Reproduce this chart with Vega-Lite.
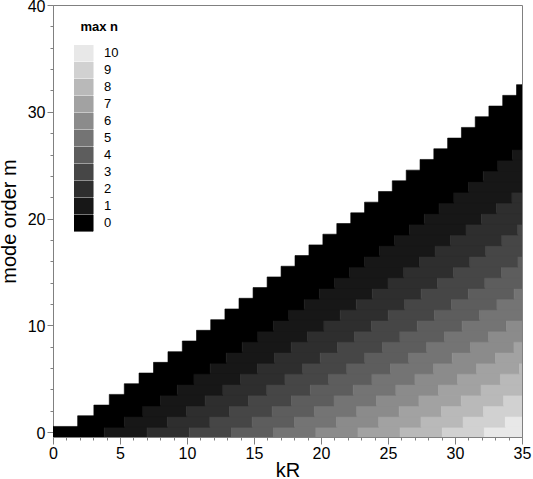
{
  "$schema": "https://vega.github.io/schema/vega-lite/v6.json",
  "width": 469,
  "height": 432,
  "autosize": {"type": "none"},
  "padding": {"left": 53, "top": 5, "right": 11, "bottom": 42},
  "background": "white",
  "config": {
    "font": "Liberation Sans",
    "view": {"stroke": "#808080", "strokeWidth": 1},
    "axis": {"grid": false, "domainColor": "#808080", "tickColor": "#808080", "labelColor": "#000000", "titleColor": "#000000", "titleFontWeight": "normal", "labelFontSize": 16, "titleFontSize": 20, "labelOverlap": false, "labelFlush": false, "labelBound": false}
  },
  "data": {
    "values": [
      {"m":0,"a":0,"b":3.83,"n":0},{"m":0,"a":3.83,"b":7.02,"n":1},{"m":0,"a":7.02,"b":10.17,"n":2},{"m":0,"a":10.17,"b":13.32,"n":3},{"m":0,"a":13.32,"b":16.47,"n":4},{"m":0,"a":16.47,"b":19.62,"n":5},{"m":0,"a":19.62,"b":22.76,"n":6},{"m":0,"a":22.76,"b":25.9,"n":7},{"m":0,"a":25.9,"b":29.05,"n":8},{"m":0,"a":29.05,"b":32.19,"n":9},{"m":0,"a":32.19,"b":35,"n":10},
      {"m":1,"a":1.84,"b":5.33,"n":0},{"m":1,"a":5.33,"b":8.54,"n":1},{"m":1,"a":8.54,"b":11.71,"n":2},{"m":1,"a":11.71,"b":14.86,"n":3},{"m":1,"a":14.86,"b":18.02,"n":4},{"m":1,"a":18.02,"b":21.16,"n":5},{"m":1,"a":21.16,"b":24.31,"n":6},{"m":1,"a":24.31,"b":27.46,"n":7},{"m":1,"a":27.46,"b":30.6,"n":8},{"m":1,"a":30.6,"b":33.75,"n":9},{"m":1,"a":33.75,"b":35,"n":10},
      {"m":2,"a":3.05,"b":6.71,"n":0},{"m":2,"a":6.71,"b":9.97,"n":1},{"m":2,"a":9.97,"b":13.17,"n":2},{"m":2,"a":13.17,"b":16.35,"n":3},{"m":2,"a":16.35,"b":19.51,"n":4},{"m":2,"a":19.51,"b":22.67,"n":5},{"m":2,"a":22.67,"b":25.83,"n":6},{"m":2,"a":25.83,"b":28.98,"n":7},{"m":2,"a":28.98,"b":32.13,"n":8},{"m":2,"a":32.13,"b":35,"n":9},
      {"m":3,"a":4.2,"b":8.02,"n":0},{"m":3,"a":8.02,"b":11.35,"n":1},{"m":3,"a":11.35,"b":14.59,"n":2},{"m":3,"a":14.59,"b":17.79,"n":3},{"m":3,"a":17.79,"b":20.97,"n":4},{"m":3,"a":20.97,"b":24.14,"n":5},{"m":3,"a":24.14,"b":27.31,"n":6},{"m":3,"a":27.31,"b":30.47,"n":7},{"m":3,"a":30.47,"b":33.63,"n":8},{"m":3,"a":33.63,"b":35,"n":9},
      {"m":4,"a":5.32,"b":9.28,"n":0},{"m":4,"a":9.28,"b":12.68,"n":1},{"m":4,"a":12.68,"b":15.96,"n":2},{"m":4,"a":15.96,"b":19.2,"n":3},{"m":4,"a":19.2,"b":22.4,"n":4},{"m":4,"a":22.4,"b":25.59,"n":5},{"m":4,"a":25.59,"b":28.77,"n":6},{"m":4,"a":28.77,"b":31.94,"n":7},{"m":4,"a":31.94,"b":35,"n":8},
      {"m":5,"a":6.42,"b":10.52,"n":0},{"m":5,"a":10.52,"b":13.99,"n":1},{"m":5,"a":13.99,"b":17.31,"n":2},{"m":5,"a":17.31,"b":20.58,"n":3},{"m":5,"a":20.58,"b":23.8,"n":4},{"m":5,"a":23.8,"b":27.01,"n":5},{"m":5,"a":27.01,"b":30.2,"n":6},{"m":5,"a":30.2,"b":33.39,"n":7},{"m":5,"a":33.39,"b":35,"n":8},
      {"m":6,"a":7.5,"b":11.73,"n":0},{"m":6,"a":11.73,"b":15.27,"n":1},{"m":6,"a":15.27,"b":18.64,"n":2},{"m":6,"a":18.64,"b":21.93,"n":3},{"m":6,"a":21.93,"b":25.18,"n":4},{"m":6,"a":25.18,"b":28.41,"n":5},{"m":6,"a":28.41,"b":31.62,"n":6},{"m":6,"a":31.62,"b":34.81,"n":7},{"m":6,"a":34.81,"b":35,"n":8},
      {"m":7,"a":8.58,"b":12.93,"n":0},{"m":7,"a":12.93,"b":16.53,"n":1},{"m":7,"a":16.53,"b":19.94,"n":2},{"m":7,"a":19.94,"b":23.27,"n":3},{"m":7,"a":23.27,"b":26.55,"n":4},{"m":7,"a":26.55,"b":29.79,"n":5},{"m":7,"a":29.79,"b":33.02,"n":6},{"m":7,"a":33.02,"b":35,"n":7},
      {"m":8,"a":9.65,"b":14.12,"n":0},{"m":8,"a":14.12,"b":17.77,"n":1},{"m":8,"a":17.77,"b":21.23,"n":2},{"m":8,"a":21.23,"b":24.59,"n":3},{"m":8,"a":24.59,"b":27.89,"n":4},{"m":8,"a":27.89,"b":31.16,"n":5},{"m":8,"a":31.16,"b":34.4,"n":6},{"m":8,"a":34.4,"b":35,"n":7},
      {"m":9,"a":10.71,"b":15.29,"n":0},{"m":9,"a":15.29,"b":19,"n":1},{"m":9,"a":19,"b":22.5,"n":2},{"m":9,"a":22.5,"b":25.89,"n":3},{"m":9,"a":25.89,"b":29.22,"n":4},{"m":9,"a":29.22,"b":32.51,"n":5},{"m":9,"a":32.51,"b":35,"n":6},
      {"m":10,"a":11.77,"b":16.45,"n":0},{"m":10,"a":16.45,"b":20.22,"n":1},{"m":10,"a":20.22,"b":23.76,"n":2},{"m":10,"a":23.76,"b":27.18,"n":3},{"m":10,"a":27.18,"b":30.53,"n":4},{"m":10,"a":30.53,"b":33.84,"n":5},{"m":10,"a":33.84,"b":35,"n":6},
      {"m":11,"a":12.83,"b":17.6,"n":0},{"m":11,"a":17.6,"b":21.43,"n":1},{"m":11,"a":21.43,"b":25.01,"n":2},{"m":11,"a":25.01,"b":28.46,"n":3},{"m":11,"a":28.46,"b":31.84,"n":4},{"m":11,"a":31.84,"b":35,"n":5},
      {"m":12,"a":13.88,"b":18.75,"n":0},{"m":12,"a":18.75,"b":22.63,"n":1},{"m":12,"a":22.63,"b":26.25,"n":2},{"m":12,"a":26.25,"b":29.73,"n":3},{"m":12,"a":29.73,"b":33.13,"n":4},{"m":12,"a":33.13,"b":35,"n":5},
      {"m":13,"a":14.93,"b":19.88,"n":0},{"m":13,"a":19.88,"b":23.82,"n":1},{"m":13,"a":23.82,"b":27.47,"n":2},{"m":13,"a":27.47,"b":30.99,"n":3},{"m":13,"a":30.99,"b":34.41,"n":4},{"m":13,"a":34.41,"b":35,"n":5},
      {"m":14,"a":15.98,"b":21.02,"n":0},{"m":14,"a":21.02,"b":25,"n":1},{"m":14,"a":25,"b":28.69,"n":2},{"m":14,"a":28.69,"b":32.23,"n":3},{"m":14,"a":32.23,"b":35,"n":4},
      {"m":15,"a":17.02,"b":22.14,"n":0},{"m":15,"a":22.14,"b":26.18,"n":1},{"m":15,"a":26.18,"b":29.9,"n":2},{"m":15,"a":29.9,"b":33.47,"n":3},{"m":15,"a":33.47,"b":35,"n":4},
      {"m":16,"a":18.06,"b":23.26,"n":0},{"m":16,"a":23.26,"b":27.35,"n":1},{"m":16,"a":27.35,"b":31.11,"n":2},{"m":16,"a":31.11,"b":34.7,"n":3},{"m":16,"a":34.7,"b":35,"n":4},
      {"m":17,"a":19.1,"b":24.38,"n":0},{"m":17,"a":24.38,"b":28.51,"n":1},{"m":17,"a":28.51,"b":32.3,"n":2},{"m":17,"a":32.3,"b":35,"n":3},
      {"m":18,"a":20.14,"b":25.5,"n":0},{"m":18,"a":25.5,"b":29.67,"n":1},{"m":18,"a":29.67,"b":33.5,"n":2},{"m":18,"a":33.5,"b":35,"n":3},
      {"m":19,"a":21.18,"b":26.6,"n":0},{"m":19,"a":26.6,"b":30.82,"n":1},{"m":19,"a":30.82,"b":34.69,"n":2},{"m":19,"a":34.69,"b":35,"n":3},
      {"m":20,"a":22.22,"b":27.71,"n":0},{"m":20,"a":27.71,"b":31.97,"n":1},{"m":20,"a":31.97,"b":35,"n":2},
      {"m":21,"a":23.25,"b":28.81,"n":0},{"m":21,"a":28.81,"b":33.11,"n":1},{"m":21,"a":33.11,"b":35,"n":2},
      {"m":22,"a":24.29,"b":29.92,"n":0},{"m":22,"a":29.92,"b":34.25,"n":1},{"m":22,"a":34.25,"b":35,"n":2},
      {"m":23,"a":25.32,"b":31.01,"n":0},{"m":23,"a":31.01,"b":35,"n":1},
      {"m":24,"a":26.36,"b":32.11,"n":0},{"m":24,"a":32.11,"b":35,"n":1},
      {"m":25,"a":27.39,"b":33.2,"n":0},{"m":25,"a":33.2,"b":35,"n":1},
      {"m":26,"a":28.42,"b":34.29,"n":0},{"m":26,"a":34.29,"b":35,"n":1},
      {"m":27,"a":29.45,"b":35,"n":0},
      {"m":28,"a":30.48,"b":35,"n":0},
      {"m":29,"a":31.51,"b":35,"n":0},
      {"m":30,"a":32.53,"b":35,"n":0},
      {"m":31,"a":33.56,"b":35,"n":0},
      {"m":32,"a":34.59,"b":35,"n":0}
    ]
  },
  "mark": {"type": "rect", "height": 11.5, "strokeWidth": 0.6, "clip": true},
  "encoding": {
    "x": {
      "field": "a", "type": "quantitative",
      "scale": {"domain": [0, 35], "nice": false, "zero": false},
      "axis": {
        "title": "kR",
        "values": [0,1,2,3,4,5,6,7,8,9,10,11,12,13,14,15,16,17,18,19,20,21,22,23,24,25,26,27,28,29,30,31,32,33,34,35],
        "labelExpr": "datum.value % 5 === 0 ? datum.label : ''",
        "tickSize": {"condition": {"test": "datum.value % 5 === 0", "value": 7}, "value": 3},
        "labelPadding": 1,
        "titlePadding": -1
      }
    },
    "x2": {"field": "b"},
    "y": {
      "field": "m", "type": "quantitative",
      "scale": {"domain": [-0.45, 40], "nice": false, "zero": false},
      "axis": {
        "title": "mode order m",
        "values": [0,2,4,6,8,10,12,14,16,18,20,22,24,26,28,30,32,34,36,38,40],
        "labelExpr": "datum.value % 10 === 0 ? datum.label : ''",
        "tickSize": {"condition": {"test": "datum.value % 10 === 0", "value": 6}, "value": 3},
        "labelPadding": 2,
        "labelOffset": 1,
        "titlePadding": 8
      }
    },
    "fill": {
      "field": "n", "type": "ordinal",
      "scale": {"domain": [10,9,8,7,6,5,4,3,2,1,0], "range": ["#e8e8e8","#d1d1d1","#b9b9b9","#a2a2a2","#8b8b8b","#747474","#5d5d5d","#464646","#2e2e2e","#171717","#000000"]},
      "legend": {
        "title": "max n",
        "titleFontSize": 13,
        "titleFontWeight": "bold",
        "titleColor": "#000000",
        "titleAnchor": "end",
        "titlePadding": 11,
        "labelFontSize": 13,
        "labelColor": "#000000",
        "labelBaseline": "middle",
        "labelOffset": 12,
        "orient": "none",
        "legendX": 21,
        "legendY": 16,
        "padding": 0,
        "clipHeight": 16.5,
        "symbolType": "M-1.2,-1H1.2V1H-1.2Z",
        "symbolSize": 279,
        "symbolStrokeColor": "#505050",
        "symbolStrokeWidth": 1,
        "symbolOpacity": 1,
        "rowPadding": 0,
        "encode": {"symbols": {"update": {"stroke": {"value": "#505050"}, "strokeWidth": {"value": 1}}}}
      }
    },
    "stroke": {
      "field": "n", "type": "ordinal",
      "scale": {"domain": [10,9,8,7,6,5,4,3,2,1,0], "range": ["#e8e8e8","#d1d1d1","#b9b9b9","#a2a2a2","#8b8b8b","#747474","#5d5d5d","#464646","#2e2e2e","#171717","#000000"]},
      "legend": null
    }
  }
}
